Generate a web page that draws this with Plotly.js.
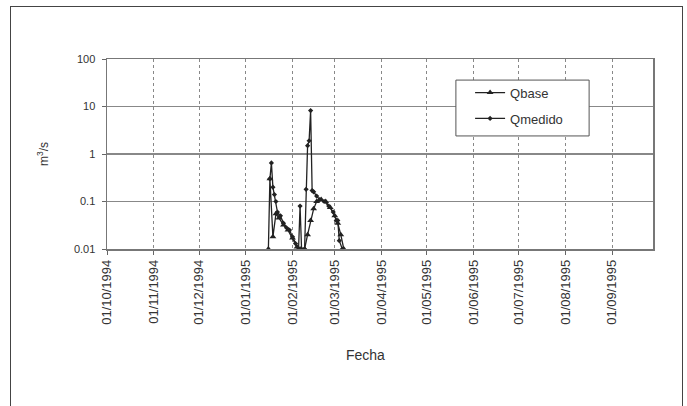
<!DOCTYPE html>
<html>
<head>
<meta charset="utf-8">
<script src="https://cdn.plot.ly/plotly-3.0.1.min.js"></script>
<style>
  html, body { margin: 0; padding: 0; background: #ffffff; }
  #frame { position: absolute; left: 10px; top: 6px; width: 673px; height: 420px; border: 1.5px solid #444; box-sizing: border-box; }
  #chart { position: absolute; left: 0; top: 0; width: 687px; height: 406px; }
</style>
</head>
<body>
<div id="frame"></div>
<div id="chart"></div>
<script>
// ---- data ----
const qbaseDates = ['1995-01-16','1995-01-17','1995-01-19','1995-01-21','1995-01-23','1995-01-26','1995-01-29','1995-02-01','1995-02-04','1995-02-06','1995-02-09','1995-02-11','1995-02-13','1995-02-15','1995-02-17','1995-02-20','1995-02-23','1995-02-26','1995-03-01','1995-03-03','1995-03-05','1995-03-07'];
const qbaseValues = [0.01,0.3,0.018,0.055,0.045,0.032,0.025,0.017,0.011,0.01,0.01,0.02,0.04,0.07,0.1,0.11,0.1,0.075,0.05,0.035,0.02,0.01];

const qmedidoDates = ['1995-01-17','1995-01-18','1995-01-19','1995-01-20','1995-01-21','1995-01-22','1995-01-24','1995-01-26','1995-01-28','1995-01-30','1995-02-01','1995-02-03','1995-02-05','1995-02-06','1995-02-07','1995-02-09','1995-02-10','1995-02-11','1995-02-12','1995-02-13','1995-02-14','1995-02-15','1995-02-17','1995-02-19','1995-02-22','1995-02-25','1995-02-28','1995-03-02','1995-03-03','1995-03-04','1995-03-06'];
const qmedidoValues = [0.3,0.65,0.2,0.14,0.1,0.06,0.05,0.035,0.028,0.025,0.018,0.013,0.01,0.08,0.01,0.01,0.18,1.5,1.9,8.2,0.17,0.16,0.13,0.11,0.1,0.08,0.06,0.04,0.04,0.015,0.01];

const xTickVals = ['1994-10-01','1994-11-01','1994-12-01','1995-01-01','1995-02-01','1995-03-01','1995-04-01','1995-05-01','1995-06-01','1995-07-01','1995-08-01','1995-09-01'];
const xTickText = ['01/10/1994','01/11/1994','01/12/1994','01/01/1995','01/02/1995','01/03/1995','01/04/1995','01/05/1995','01/06/1995','01/07/1995','01/08/1995','01/09/1995'];
const yTickVals = [0.01,0.1,1,10,100];
const yTickText = ['0.01','0.1','1','10','100'];

const traces = [
  { x: qbaseDates, y: qbaseValues, name: 'Qbase', type: 'scatter', mode: 'lines+markers',
    line: { color: '#222', width: 1.3 }, marker: { symbol: 'triangle-up', size: 6, color: '#222' },
    legendgroup: 'a' },
  { x: qmedidoDates, y: qmedidoValues, name: 'Qmedido', type: 'scatter', mode: 'lines+markers',
    line: { color: '#222', width: 1.3 }, marker: { symbol: 'diamond', size: 4, color: '#222' },
    legendgroup: 'b' }
];

const font = 'Arial, "Liberation Sans", sans-serif';
const layout = {
  width: 687, height: 406,
  margin: { l: 107, r: 34, t: 59, b: 157 },
  paper_bgcolor: 'rgba(0,0,0,0)',
  plot_bgcolor: '#ffffff',
  font: { family: font, color: '#333', size: 11 },
  showlegend: true,
  legend: { x: 0.665, y: 0.902, xanchor: 'left', yanchor: 'top', bgcolor: 'rgba(0,0,0,0)',
            borderwidth: 0, tracegroupgap: 6, font: { size: 13, family: font, color: '#333' } },
  xaxis: {
    type: 'date', range: ['1994-10-01', '1995-09-28'],
    tickmode: 'array', tickvals: xTickVals, ticktext: xTickText, tickangle: -90,
    tickfont: { size: 13, family: font, color: '#333' },
    ticks: 'outside', ticklen: 4, tickcolor: '#666',
    showgrid: true, gridcolor: '#888', griddash: 'dot', gridwidth: 1,
    showline: true, linecolor: '#777', linewidth: 1.5, mirror: true, zeroline: false
  },
  yaxis: {
    type: 'log', range: [-2, 2],
    tickmode: 'array', tickvals: yTickVals, ticktext: yTickText,
    tickfont: { size: 11, family: font, color: '#333' },
    ticks: 'outside', ticklen: 4, tickcolor: '#666', ticklabelstandoff: 4,
    showgrid: true, gridcolor: '#888', gridwidth: 1.5,
    showline: true, linecolor: '#777', linewidth: 1.5, mirror: true, zeroline: false,
    title: { text: 'm<sup>3</sup>/s', font: { size: 12, family: font, color: '#333' }, standoff: 22 }
  },
  shapes: [
    { type: 'rect', xref: 'paper', yref: 'paper', x0: 0.639, x1: 0.883, y0: 0.595, y1: 0.889,
      line: { color: '#555', width: 1 }, fillcolor: '#ffffff', layer: 'above' }
  ],
  annotations: [
    { text: 'Fecha', xref: 'paper', yref: 'paper', x: (365 - 107) / 546, y: -(355 - 249) / 190,
      xanchor: 'center', yanchor: 'middle', showarrow: false,
      font: { size: 14, family: font, color: '#333' } }
  ]
};

Plotly.newPlot('chart', traces, layout, { displayModeBar: false, staticPlot: true });
</script>
</body>
</html>
